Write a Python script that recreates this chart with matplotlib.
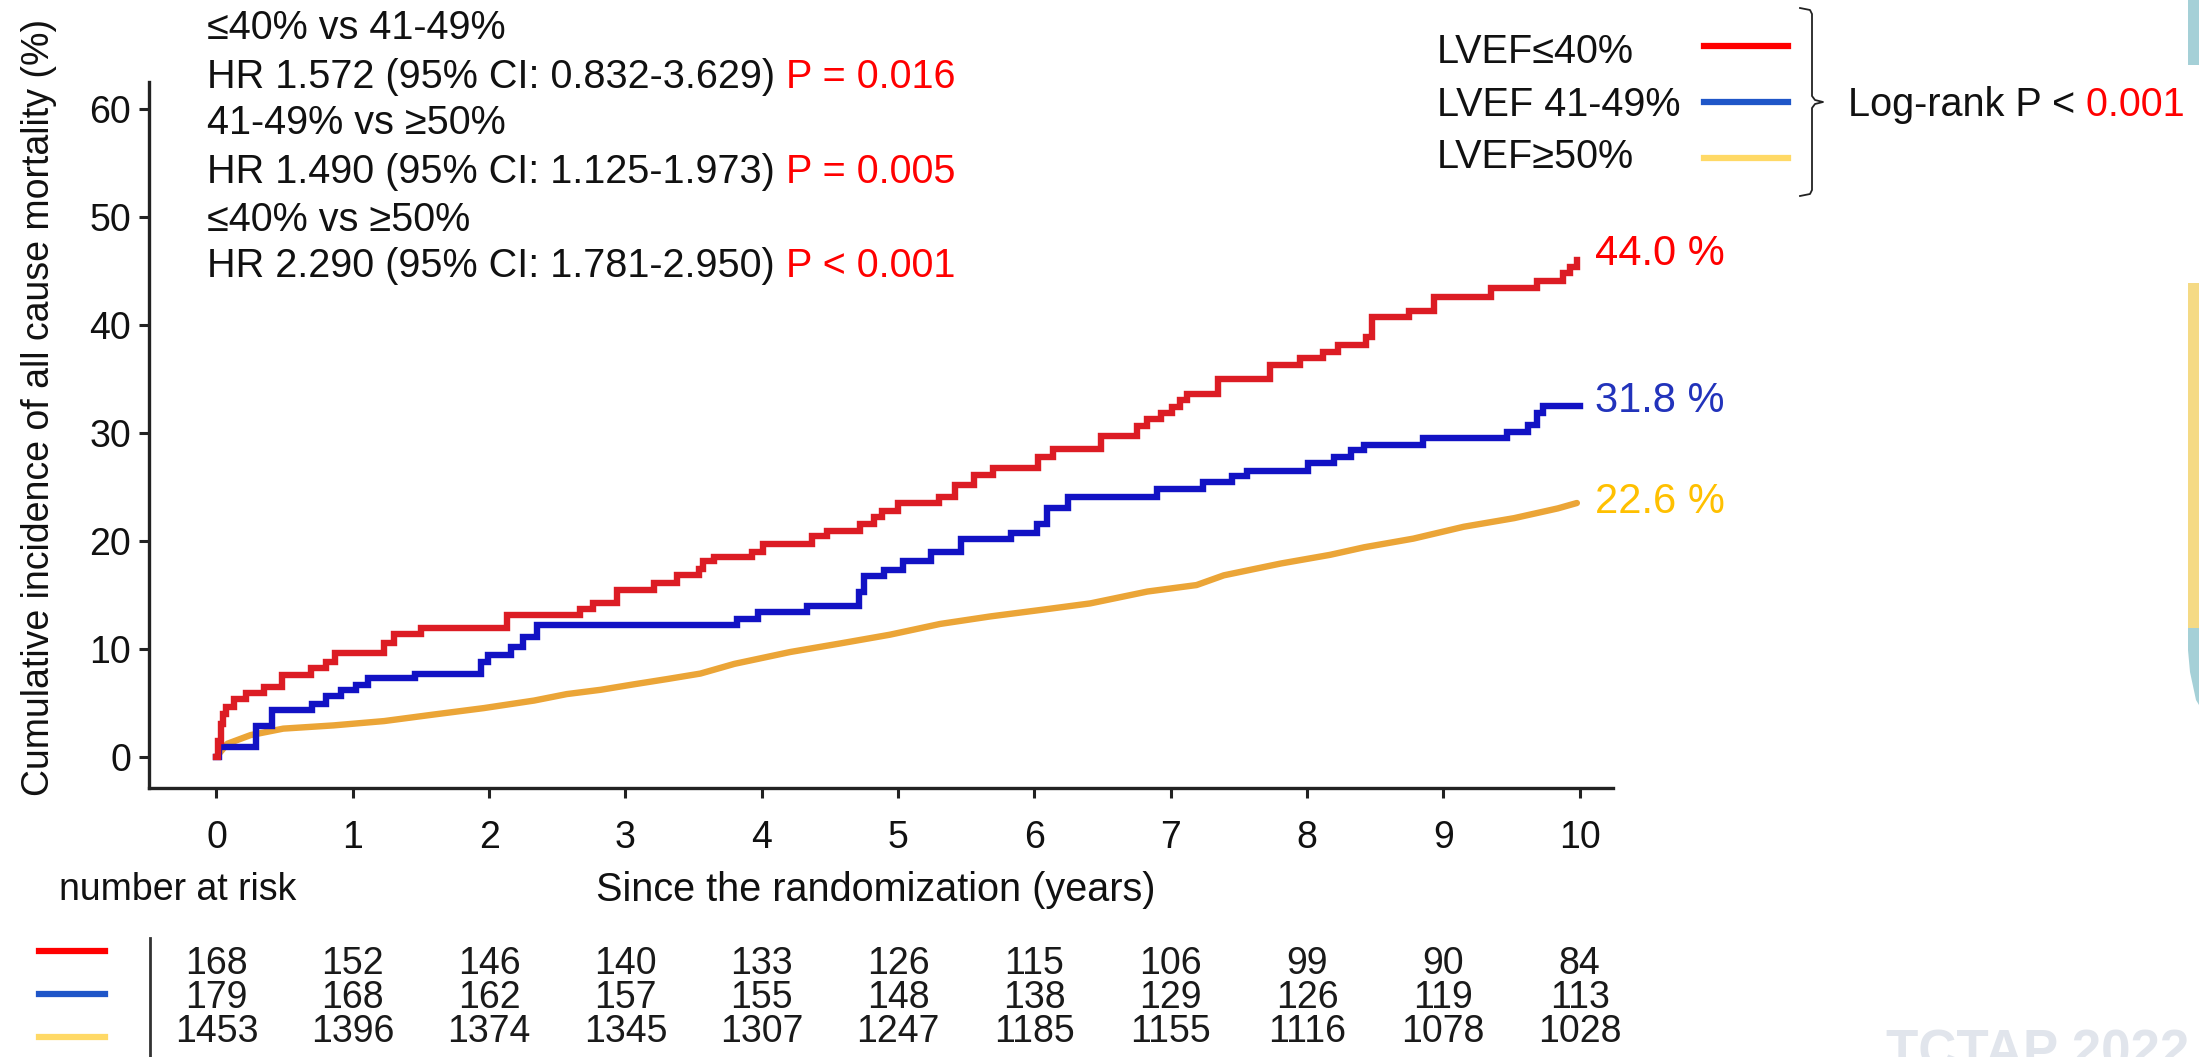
import matplotlib
matplotlib.use("Agg")
import matplotlib.pyplot as plt
from matplotlib.lines import Line2D
from matplotlib.patches import Rectangle, Polygon
import matplotlib.transforms as mtransforms

plt.rcParams['font.family'] = ['Liberation Sans', 'DejaVu Sans']

# ---------------- data ----------------
years = [0, 1, 2, 3, 4, 5, 6, 7, 8, 9, 10]
y_ticks = [0, 10, 20, 30, 40, 50, 60]

red_t = [0, 0.01, 0.03, 0.05, 0.07, 0.125, 0.22, 0.35, 0.48, 0.69, 0.80, 0.87, 1.23, 1.30, 1.50,
         2.13, 2.67, 2.76, 2.94, 3.21, 3.38, 3.54, 3.57, 3.65, 3.93, 4.01, 4.37, 4.48, 4.72, 4.82,
         4.88, 5.00, 5.30, 5.42, 5.56, 5.70, 6.03, 6.14, 6.49, 6.75, 6.83, 6.93, 7.01, 7.07, 7.12,
         7.35, 7.73, 7.95, 8.12, 8.23, 8.43, 8.48, 8.75, 8.93, 9.35, 9.69, 9.88, 9.93, 9.98]
red_v = [0, 1.5, 3.0, 4.0, 4.6, 5.3, 5.9, 6.5, 7.6, 8.2, 8.8, 9.6, 10.5, 11.4, 11.9,
         13.1, 13.7, 14.2, 15.4, 16.1, 16.8, 17.4, 18.1, 18.5, 19.0, 19.7, 20.4, 20.9, 21.6, 22.2,
         22.8, 23.5, 24.1, 25.2, 26.1, 26.7, 27.8, 28.5, 29.7, 30.6, 31.3, 31.8, 32.4, 33.0, 33.6,
         35.0, 36.3, 36.9, 37.5, 38.1, 38.9, 40.7, 41.3, 42.6, 43.4, 44.1, 44.8, 45.4, 46.0]

blue_t = [0, 0.02, 0.29, 0.41, 0.70, 0.80, 0.91, 1.02, 1.11, 1.46, 1.94, 1.99, 2.16, 2.25, 2.35,
          3.82, 3.97, 4.33, 4.71, 4.75, 4.90, 5.04, 5.24, 5.46, 5.83, 6.02, 6.09, 6.25, 6.90, 7.24,
          7.45, 7.56, 8.01, 8.20, 8.32, 8.42, 8.85, 9.47, 9.62, 9.69, 9.73, 10.0]
blue_v = [0, 0.9, 2.8, 4.3, 4.9, 5.6, 6.2, 6.6, 7.3, 7.7, 8.8, 9.4, 10.2, 11.1, 12.2,
          12.8, 13.4, 14.0, 15.3, 16.7, 17.3, 18.1, 19.0, 20.2, 20.7, 21.6, 23.0, 24.1, 24.8, 25.4,
          26.0, 26.5, 27.2, 27.8, 28.4, 28.9, 29.5, 30.1, 30.7, 31.8, 32.5, 32.5]

orange_t = [0, 0.08, 0.25, 0.49, 0.86, 1.23, 1.59, 1.96, 2.33, 2.57, 2.82, 3.06, 3.31, 3.55, 3.80,
            4.21, 4.58, 4.94, 5.31, 5.68, 6.05, 6.41, 6.83, 7.19, 7.39, 7.81, 8.17, 8.42, 8.78, 9.15,
            9.52, 9.84, 9.98]
orange_v = [0, 1.2, 2.0, 2.6, 2.9, 3.3, 3.9, 4.5, 5.2, 5.8, 6.2, 6.7, 7.2, 7.7, 8.6,
            9.7, 10.5, 11.3, 12.3, 13.0, 13.6, 14.2, 15.3, 15.9, 16.8, 17.9, 18.7, 19.4, 20.2, 21.3,
            22.1, 23.0, 23.5]

end_labels = ["44.0 %", "31.8 %", "22.6 %"]
legend_labels = ["LVEF\u226440%", "LVEF 41-49%", "LVEF\u226550%"]

risk_red = [168, 152, 146, 140, 133, 126, 115, 106, 99, 90, 84]
risk_blue = [179, 168, 162, 157, 155, 148, 138, 129, 126, 119, 113]
risk_orange = [1453, 1396, 1374, 1345, 1307, 1247, 1185, 1155, 1116, 1078, 1028]

hr_lines = [
    ("\u226440% vs 41-49%", None),
    ("HR 1.572 (95% CI: 0.832-3.629)", " P = 0.016"),
    ("41-49% vs \u226550%", None),
    ("HR 1.490 (95% CI: 1.125-1.973)", " P = 0.005"),
    ("\u226440% vs \u226550%", None),
    ("HR 2.290 (95% CI: 1.781-2.950)", " P < 0.001"),
]

# ---------------- styling ----------------
C_RED = '#DC1C24'
C_BLUE = '#1212C4'
C_ORANGE = '#EBA537'
L_RED = '#FF0000'
L_BLUE = '#1F56C8'
L_YEL = '#FFD966'
TXT = '#111111'

W, H = 2199, 1057
fig = plt.figure(figsize=(W / 100, H / 100), dpi=100)
fig.patch.set_facecolor('white')


def fx(px):
    return px / W


def fy(py):
    return 1 - py / H


ax = fig.add_axes([fx(149), fy(788), fx(1613) - fx(149), fy(82) - fy(788)])
ax.set_xlim(-0.495, 10.245)
ax.set_ylim(-2.9, 62.5)

ax.plot(orange_t, orange_v, color=C_ORANGE, lw=4.6, solid_capstyle='round', zorder=3)
ax.step(blue_t, blue_v, where='post', color=C_BLUE, lw=4.6, solid_joinstyle='miter', zorder=4)
ax.step(red_t, red_v, where='post', color=C_RED, lw=4.6, solid_joinstyle='miter', zorder=5)

for s in ['top', 'right']:
    ax.spines[s].set_visible(False)
for s in ['left', 'bottom']:
    ax.spines[s].set_linewidth(2.4)
    ax.spines[s].set_color('#222222')

ax.set_xticks(years)
ax.set_yticks(y_ticks)
ax.tick_params(axis='both', direction='out', length=7, width=2.2, color='#222222',
               labelsize=27, labelcolor=TXT)
ax.tick_params(axis='x', pad=16)
ax.tick_params(axis='y', pad=6)

# end labels
end_cols = ['#FF0000', '#2233BB', '#FFC000']
end_y = [254, 401, 502]
for lab, col, py in zip(end_labels, end_cols, end_y):
    fig.text(fx(1595), fy(py), lab, color=col, fontsize=30, ha='left', va='center')

# axis labels
fig.text(fx(39), fy(407), "Cumulative incidence of all cause mortality (%)", rotation=90,
         ha='center', va='center', fontsize=27, color=TXT)
fig.text(fx(876), fy(890), "Since the randomization (years)", ha='center', va='center',
         fontsize=28.5, color=TXT)
fig.text(fx(59), fy(890), "number at risk", ha='left', va='center', fontsize=27, color=TXT)

# HR text block
hr_y = [28, 77, 123, 172, 220, 266]
for (txt, ptxt), py in zip(hr_lines, hr_y):
    t = fig.text(fx(207), fy(py), txt, ha='left', va='center', fontsize=28.5, color=TXT)
    if ptxt:
        ax.annotate(ptxt, xy=(1, 0), xycoords=t, ha='left', va='bottom',
                    fontsize=28.5, color='#FF0000', annotation_clip=False)

# legend
leg_text_y = [52, 105, 157]
leg_line_y = [46, 102, 158]
leg_cols = [L_RED, L_BLUE, L_YEL]
for lab, ty, ly, col in zip(legend_labels, leg_text_y, leg_line_y, leg_cols):
    fig.text(fx(1437), fy(ty), lab, ha='left', va='center', fontsize=28.5, color=TXT)
    fig.add_artist(Line2D([fx(1704), fx(1788)], [fy(ly), fy(ly)], color=col, lw=4.5,
                          transform=fig.transFigure))

# brace
bx = [1800, 1810, 1812, 1812, 1815, 1823, 1815, 1812, 1812, 1810, 1800]
by = [8, 10, 14, 96, 100, 102, 104, 108, 190, 194, 196]
fig.add_artist(Line2D([fx(v) for v in bx], [fy(v) for v in by], color='#222222', lw=1.3,
                      transform=fig.transFigure))
lr = fig.text(fx(1848), fy(105), "Log-rank P <", ha='left', va='center', fontsize=28.5, color=TXT)
ax.annotate(" 0.001", xy=(1, 0), xycoords=lr, ha='left', va='bottom', fontsize=28.5,
            color='#FF0000', annotation_clip=False)

# number-at-risk table: one three-line text per column
trans = mtransforms.blended_transform_factory(ax.transData, fig.transFigure)
for x, a, b, c in zip(years, risk_red, risk_blue, risk_orange):
    ax.text(x, fy(998), f"{a}\n{b}\n{c}", transform=trans, ha='center', va='center',
            multialignment='center', linespacing=0.92,
            fontsize=27, color='#1a1a1a', clip_on=False)
seg_y = [951, 994, 1037]
for col, py in zip(leg_cols, seg_y):
    fig.add_artist(Line2D([fx(39), fx(105)], [fy(py), fy(py)], color=col, lw=4.5,
                          transform=fig.transFigure))
fig.add_artist(Line2D([fx(150), fx(150)], [fy(938), fy(1057)], color='#333333', lw=2,
                      transform=fig.transFigure))

# slide background decorations on right edge
fig.add_artist(Rectangle((fx(2188), fy(65)), fx(2199) - fx(2188), fy(0) - fy(65),
                         transform=fig.transFigure, color='#A5D0D7', lw=0))
fig.add_artist(Rectangle((fx(2188), fy(628)), fx(2199) - fx(2188), fy(283) - fy(628),
                         transform=fig.transFigure, color='#F5DA85', lw=0))
fig.add_artist(Polygon([(fx(2188), fy(628)), (fx(2199), fy(628)), (fx(2199), fy(705)),
                        (fx(2196), fy(700)), (fx(2190), fy(672)), (fx(2188), fy(650))],
                       closed=True, transform=fig.transFigure, color='#A5D0D7', lw=0))
fig.text(fx(1886), fy(1028), "TCTAP 2022", ha='left', va='top', fontsize=38,
         fontweight='bold', color='#E1E5EC')

fig.savefig('out.png', dpi=100, facecolor='white')
